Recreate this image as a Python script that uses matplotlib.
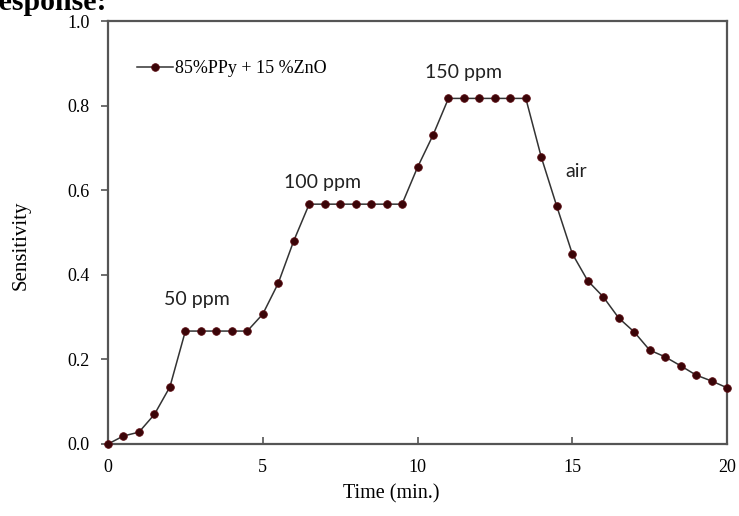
import matplotlib
matplotlib.use("Agg")
import matplotlib.pyplot as plt

time_min = [0, 0.5, 1, 1.5, 2, 2.5, 3, 3.5, 4, 4.5, 5, 5.5, 6, 6.5, 7, 7.5, 8, 8.5, 9, 9.5,
            10, 10.5, 11, 11.5, 12, 12.5, 13, 13.5, 14, 14.5, 15, 15.5, 16, 16.5, 17, 17.5,
            18, 18.5, 19, 19.5, 20]
sensitivity = [0.0, 0.019, 0.028, 0.07, 0.135, 0.267, 0.267, 0.267, 0.267, 0.267,
               0.307, 0.38, 0.48, 0.567, 0.567, 0.567, 0.567, 0.567, 0.567, 0.567,
               0.654, 0.73, 0.817, 0.817, 0.817, 0.817, 0.817, 0.817,
               0.678, 0.562, 0.45, 0.386, 0.348, 0.298, 0.265, 0.222,
               0.206, 0.185, 0.163, 0.149, 0.133]
series_label = "85%PPy + 15 %ZnO"
annotations = [("50 ppm", 2.87, 0.341), ("100 ppm", 6.94, 0.618),
               ("150 ppm", 11.48, 0.879), ("air", 15.13, 0.645)]
x_ticks = [0, 5, 10, 15, 20]
y_ticks = [0.0, 0.2, 0.4, 0.6, 0.8, 1.0]

serif = ["Liberation Serif", "DejaVu Serif"]
sans = ["Lato", "DejaVu Sans"]

fig = plt.figure(figsize=(7.39, 5.16), dpi=100)
ax = fig.add_axes([108/739, 1-444/516, (727-108)/739, (444-21)/516])

ax.plot(time_min, sensitivity, color="#333333", lw=1.1, marker="o", markersize=5.5,
        markerfacecolor="#3a0508", markeredgecolor="#5a0a10", markeredgewidth=0.6,
        label=series_label, clip_on=False, zorder=3)

ax.set_xlim(0, 20)
ax.set_ylim(0, 1.0)
ax.set_xticks(x_ticks)
ax.set_yticks(y_ticks)
ax.set_xticklabels([str(t) for t in x_ticks], fontfamily=serif, fontsize=13)
ax.set_yticklabels([f"{t:.1f}" for t in y_ticks], fontfamily=serif, fontsize=13)
ax.tick_params(axis="x", direction="in", length=5, width=1.2, color="#555555", pad=11)
ax.tick_params(axis="y", direction="out", length=5, width=1.2, color="#555555", pad=8)
for s in ax.spines.values():
    s.set_color("#555555")
    s.set_linewidth(1.6)

ax.set_xlabel("Time (min.)", fontfamily=serif, fontsize=14.5)
ax.xaxis.set_label_coords((391-108)/619, -(484-444)/423)
ax.set_ylabel("Sensitivity", fontfamily=serif, fontsize=15)
ax.yaxis.set_label_coords(-(108-31)/619, (444-245)/423)

for txt, xx, yy in annotations:
    ax.text(xx, yy, txt, fontfamily=sans, fontsize=14, ha="center", va="center", color="#222222")

leg = ax.legend(loc="upper left", bbox_to_anchor=(0.035, 0.925), frameon=False,
                prop={"family": serif, "size": 13}, handlelength=2.0, handletextpad=0.1,
                borderaxespad=0)

fig.text(107/739, 1-10/516, "Response:", fontfamily=serif, fontsize=21.5, fontweight="bold",
         ha="right", va="baseline")

fig.savefig("out.png", dpi=100)
